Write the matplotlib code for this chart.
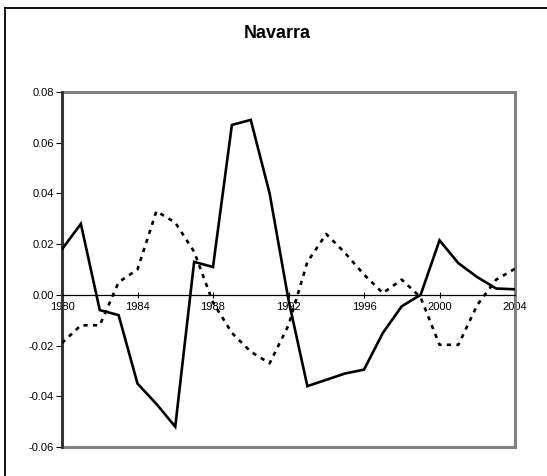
import numpy as np
import matplotlib
matplotlib.use("Agg")
import matplotlib.pyplot as plt
from matplotlib.patches import Rectangle
from matplotlib.lines import Line2D

plt.rcParams['font.family'] = ['Liberation Sans', 'DejaVu Sans']
plt.rcParams['axes.unicode_minus'] = False

# Daten
years = np.arange(1980, 2005)
solid = [0.018, 0.028, -0.006, -0.008, -0.035, -0.043, -0.052, 0.013, 0.011,
         0.067, 0.069, 0.040, -0.002, -0.036, -0.0335, -0.031, -0.0295, -0.015,
         -0.0045, 0.000, 0.0215, 0.0125, 0.007, 0.0025, 0.0022]
dashed = [-0.019, -0.012, -0.012, 0.005, 0.010, 0.033, 0.0285, 0.017, -0.003,
          -0.015, -0.0224, -0.027, -0.012, 0.013, 0.024, 0.0165, 0.008, 0.0007,
          0.006, -0.001, -0.0197, -0.0197, -0.004, 0.006, 0.0103]
x_ticks = [1980, 1984, 1988, 1992, 1996, 2000, 2004]
y_ticks = [-0.06, -0.04, -0.02, 0.00, 0.02, 0.04, 0.06, 0.08]

fig = plt.figure(figsize=(5.47, 4.76), dpi=100)
ax = fig.add_axes([62/547, 1-447/476, (515-62)/547, (447-92)/476])

ax.plot(years, solid, color='black', lw=1.9, solid_joinstyle='miter', zorder=4)
ax.plot(years, dashed, color='black', lw=1.9, linestyle=(0, (1.6, 2.0)),
        dash_capstyle='butt', zorder=4)

ax.set_xlim(1980, 2004)
ax.set_ylim(-0.06, 0.08)

# Rahmen der Zeichenfläche
for s in ['top', 'right', 'left']:
    ax.spines[s].set_visible(False)
ax.add_patch(Rectangle((0, 0), 1, 1, transform=ax.transAxes, fill=False,
                       edgecolor='#808080', lw=2.2, clip_on=False, zorder=2))
ax.plot([0, 0], [0, 1], transform=ax.transAxes, color='#303030', lw=2,
        clip_on=False, zorder=3)

# x-Achse bei 0
ax.spines['bottom'].set_position(('data', 0))
ax.spines['bottom'].set_color('black')
ax.spines['bottom'].set_linewidth(0.9)
ax.spines['bottom'].set_zorder(3)

ax.set_xticks(x_ticks)
ax.set_xticklabels([str(y) for y in x_ticks])
ax.tick_params(axis='x', direction='inout', length=5, width=0.8, pad=3,
               labelsize=8, color='black')

ax.set_yticks(y_ticks)
ax.set_yticklabels([f"{v:.2f}" for v in y_ticks])
ax.tick_params(axis='y', direction='out', length=4, width=0.8, pad=2,
               labelsize=8, color='black')

fig.text(277/547, 1-33/476, "Navarra", ha='center', va='center',
         fontsize=13, fontweight='bold')

# äußerer Rahmen (nur links und oben sichtbar)
fig.add_artist(Line2D([5/547, 5/547], [0, 1-8/476], color='black', lw=1.3,
                      transform=fig.transFigure))
fig.add_artist(Line2D([5/547, 1], [1-8/476, 1-8/476], color='black', lw=1.3,
                      transform=fig.transFigure))

fig.savefig("out.png", dpi=100)
